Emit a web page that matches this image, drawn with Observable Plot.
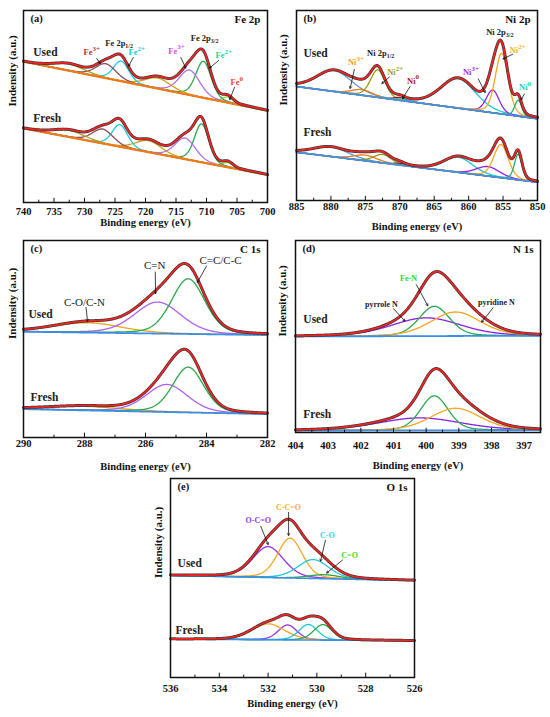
<!DOCTYPE html>
<html><head><meta charset="utf-8">
<script src="https://cdn.jsdelivr.net/npm/d3@7"></script>
<script src="https://cdn.jsdelivr.net/npm/@observablehq/plot@0.6"></script>
<style>
body{margin:0;background:#fff;}
#wrap{position:relative;width:550px;height:717px;background:#fff;overflow:hidden;}
#wrap svg{position:absolute;overflow:visible;}
#wrap svg, #wrap svg text{font-family:"Liberation Serif","Times New Roman",serif !important;}
</style></head><body><div id="wrap"></div>
<script>
const FONT = "Liberation Serif";

// ---------- (a) Fe 2p ----------
const feComponents = ["Fe0","Fe2+ 2p3/2","Fe3+ 2p3/2","sat 2p3/2","Fe2+ 2p1/2","Fe3+ 2p1/2","sat 2p1/2"];
const feColors = ["#9acd32","#2aa84a","#b070f0","#d4a017","#1ec8e0","#8b4c5c","#a8a020"];
const feUsedCenters = [706.5,710.5,712.8,718,724,726.5,732.5];
const feUsedHeights = [0.03,0.19,0.13,0.055,0.105,0.075,0.035];
const feUsedWidths  = [2,3,4,5,3,4,6];
const feUsedBg = [0.734,0.478];
const feFreshCenters = [706.5,710.8,713.5,719.5,724.2,727,732.5];
const feFreshHeights = [0.025,0.2,0.11,0.06,0.115,0.075,0.035];
const feFreshWidths  = [2,2.8,4,5,3,4,6];
const feFreshBg = [0.386,0.144];
const feTicks = [740,735,730,725,720,715,710,705,700];
const feLabels = [
 {t:"Fe",s:"3+",x:728.7,y:0.78,c:"#b03040"},
 {t:"Fe 2p",b:"1/2",x:723.3,y:0.828,c:"#222"},
 {t:"Fe",s:"2+",x:721.3,y:0.78,c:"#19c6e6"},
 {t:"Fe",s:"3+",x:714.8,y:0.79,c:"#d04cf0"},
 {t:"Fe 2p",b:"3/2",x:709.3,y:0.854,c:"#222"},
 {t:"Fe",s:"2+",x:707.05,y:0.766,c:"#21d6a0"},
 {t:"Fe",s:"0",x:704.6,y:0.625,c:"#ff3b3b"}];
const feArrows = [
 {x1:728.0,y1:0.75,x2:727.4,y2:0.724},
 {x1:722.0,y1:0.755,x2:722.8,y2:0.71},
 {x1:714.2,y1:0.755,x2:713.4,y2:0.70},
 {x1:708.0,y1:0.74,x2:709.5,y2:0.70},
 {x1:705.4,y1:0.60,x2:706.2,y2:0.536}];

// ---------- (b) Ni 2p ----------
const niComponents = ["sat 2p1/2","Ni3+ 2p1/2","Ni2+ 2p1/2","Ni0 2p1/2","sat 2p3/2","Ni3+ 2p3/2","Ni2+ 2p3/2","Ni0 2p3/2"];
const niColors = ["#5b9bd5","#f07a1a","#9a9a10","#8b1a1a","#20c8d0","#9020e0","#f5a623","#20b070"];
const niUsedCenters = [879.5,875.5,873.2,870,861.5,856.5,855.2,852.8];
const niUsedHeights = [0.11,0.03,0.145,0.015,0.155,0.12,0.32,0.085];
const niUsedWidths  = [6,3.5,2.5,2,6,2.2,2.2,1.2];
const niUsedBg = [0.60,0.43];
const niFreshCenters = [880,875,872.5,870,861.5,857.2,855.3,852.8];
const niFreshHeights = [0.05,0.03,0.045,0.01,0.08,0.05,0.175,0.135];
const niFreshWidths  = [6,4,3,2,5,4,2.5,1.3];
const niFreshBg = [0.254,0.096];
const niTicks = [885,880,875,870,865,860,855,850];
const niLabels = [
 {t:"Ni",s:"3+",x:876.3,y:0.726,c:"#f5a020"},
 {t:"Ni 2p",b:"1/2",x:871.9,y:0.774,c:"#222"},
 {t:"Ni",s:"2+",x:870.6,y:0.674,c:"#a0a010"},
 {t:"Ni",s:"0",x:867.7,y:0.63,c:"#b02020"},
 {t:"Ni",s:"3+",x:859.6,y:0.674,c:"#9a2cf0"},
 {t:"Ni 2p",b:"3/2",x:854.6,y:0.884,c:"#222"},
 {t:"Ni",s:"2+",x:852.8,y:0.79,c:"#f5b030"},
 {t:"Ni",s:"0",x:851.45,y:0.595,c:"#20d0a0"}];
const niArrows = [
 {x1:876.6,y1:0.69,x2:877.2,y2:0.59},
 {x1:871.5,y1:0.65,x2:872.6,y2:0.616},
 {x1:868.5,y1:0.60,x2:869.6,y2:0.537},
 {x1:858.6,y1:0.64,x2:857.6,y2:0.568},
 {x1:853.6,y1:0.77,x2:855.0,y2:0.745},
 {x1:851.9,y1:0.56,x2:852.4,y2:0.53}];

// ---------- (c) C 1s ----------
const cComponents = ["C-O/C-N","C=N","C=C/C-C"];
const cColors = ["#e8a820","#b060f0","#2aa84a"];
const cUsedCenters = [287.9,285.6,284.6];
const cUsedHeights = [0.05,0.16,0.28];
const cUsedWidths  = [2.6,1.8,1.3];
const cUsedBg = [0.537,0.52];
const cFreshCenters = [288,285.3,284.6];
const cFreshHeights = [0.02,0.14,0.23];
const cFreshWidths  = [3,1.6,1.2];
const cFreshBg = [0.144,0.119];
const cTicks = [290,288,286,284,282];
const cLabels = [
 {t:"C=N",x:285.7,y:0.873,c:"#222"},
 {t:"C=C/C-C",x:283.54,y:0.9,c:"#222"},
 {t:"C-O/C-N",x:288.0,y:0.685,c:"#222"}];
const cArrows = [
 {x1:285.68,y1:0.84,x2:285.67,y2:0.73},
 {x1:284.0,y1:0.87,x2:284.3,y2:0.787},
 {x1:287.95,y1:0.66,x2:287.9,y2:0.59}];

// ---------- (d) N 1s ----------
const nComponents = ["pyrrole N","Fe-N","pyridine N"];
const nColors = ["#8a20e0","#2aa84a","#f5a623"];
const nUsedCenters = [400.0,399.75,399.1];
const nUsedHeights = [0.095,0.155,0.125];
const nUsedWidths  = [2.5,1.1,1.8];
const nUsedBg = [0.5,0.504];
const nFreshCenters = [400.2,399.75,399.1];
const nFreshHeights = [0.065,0.18,0.115];
const nFreshWidths  = [3,1.0,1.8];
const nFreshBg = [0.01,0.012];
const nTicks = [404,403,402,401,400,399,398,397];
const nLabels = [
 {t:"Fe-N",x:400.54,y:0.80,c:"#22dd22"},
 {t:"pyrrole N",x:401.37,y:0.667,c:"#222"},
 {t:"pyridine N",x:397.85,y:0.677,c:"#222"}];
const nArrows = [
 {x1:400.3,y1:0.77,x2:399.95,y2:0.66},
 {x1:401.0,y1:0.645,x2:400.65,y2:0.58},
 {x1:397.95,y1:0.65,x2:398.3,y2:0.575}];

// ---------- (e) O 1s ----------
const oComponents = ["O-C=O","C-C=O","C-O","C=O"];
const oColors = ["#9a30e0","#f5a623","#20c8d8","#2aa84a"];
const oUsedCenters = [532.0,531.1,530.15,529.7];
const oUsedHeights = [0.155,0.2,0.095,0.02];
const oUsedWidths  = [1.5,1.2,1.5,1.5];
const oUsedBg = [0.513,0.487];
const oFreshCenters = [531.2,532.0,530.35,529.75];
const oFreshHeights = [0.075,0.08,0.078,0.078];
const oFreshWidths  = [0.9,1.6,0.9,0.9];
const oFreshBg = [0.193,0.185];
const oTicks = [536,534,532,530,528,526];
const oLabels = [
 {t:"O-C=O",x:532.4,y:0.79,c:"#9a30f0"},
 {t:"C-C=O",x:531.16,y:0.854,c:"#f0b030"},
 {t:"C-O",x:529.57,y:0.714,c:"#30d8e8"},
 {t:"C=O",x:528.66,y:0.613,c:"#30e030"}];
const oArrows = [
 {x1:532.3,y1:0.76,x2:532.0,y2:0.668},
 {x1:531.16,y1:0.83,x2:531.16,y2:0.714},
 {x1:529.65,y1:0.69,x2:529.85,y2:0.585},
 {x1:528.95,y1:0.59,x2:529.6,y2:0.525}];

// peak shape (pseudo-Voigt) for a fitted component
function pv(x,c,h,w){const t=(x-c)/w;const eta=0.25;return h*((1-eta)*Math.exp(-4*Math.LN2*t*t)+eta/(1+4*t*t));}

function panel(cfg){
  const [x0,x1]=cfg.domain;
  const lo=Math.min(x0,x1), hi=Math.max(x0,x1);
  const xs=d3.range(lo,hi+cfg.step/2,cfg.step);
  const comp=[],base=[],env=[];
  cfg.spectra.forEach((s,si)=>{
    const bg=x=>s.bg[0]+(s.bg[1]-s.bg[0])*(x-x0)/(x1-x0);
    s.centers.forEach((c,k)=>{xs.forEach(x=>comp.push({x,y:bg(x)+pv(x,c,s.heights[k],s.widths[k]),z:si+"-"+k,color:cfg.colors[k]}));});
    xs.forEach(x=>{
      base.push({x,y:bg(x),z:si});
      env.push({x,y:bg(x)+d3.sum(s.centers,(c,k)=>pv(x,c,s.heights[k],s.widths[k])),z:si});
    });
  });
  const majors=cfg.ticks;
  const minors=[];
  for(let i=0;i<majors.length-1;i++) minors.push((majors[i]+majors[i+1])/2);
  const sup=cfg.labels.filter(d=>d.s||d.b);
  const plain=cfg.labels.filter(d=>!(d.s||d.b));
  const F={fontFamily:FONT};
  const marks=[
    Plot.line(comp,{x:"x",y:"y",z:"z",stroke:"color",strokeWidth:1.3}),
    Plot.line(base,{x:"x",y:"y",z:"z",stroke:cfg.baseColor,strokeWidth:cfg.baseWidth||1.6}),
    Plot.line(env,{x:"x",y:"y",z:"z",stroke:"#3a3a3a",strokeWidth:3}),
    Plot.line(env,{x:"x",y:"y",z:"z",stroke:"#ff2020",strokeWidth:1.6}),
    Plot.arrow(cfg.arrows,{x1:"x1",y1:"y1",x2:"x2",y2:"y2",stroke:"#111",strokeWidth:0.8,headLength:4}),
    Plot.text(sup,{...F,x:"x",y:"y",text:"t",fill:"c",textAnchor:"end",fontSize:cfg.labSize||8.5,fontWeight:"bold"}),
    Plot.text(sup.filter(d=>d.s),{...F,x:"x",y:"y",text:"s",fill:"c",textAnchor:"start",dy:-4,fontSize:7,fontWeight:"bold"}),
    Plot.text(sup.filter(d=>d.b),{...F,x:"x",y:"y",text:"b",fill:"c",textAnchor:"start",dy:2.5,fontSize:6,fontWeight:"bold"}),
    Plot.text(plain,{...F,x:"x",y:"y",text:"t",fill:"c",fontSize:cfg.labSize||8,fontWeight:cfg.plainWeight||"bold"}),
    Plot.text([{t:"Used",x:cfg.usedPos[0],y:cfg.usedPos[1]},{t:"Fresh",x:cfg.freshPos[0],y:cfg.freshPos[1]}],{...F,x:"x",y:"y",text:"t",textAnchor:"start",fontSize:11.5,fontWeight:"bold",fill:"#222"}),
    Plot.ruleX(majors,{y1:0,y2:0.022,stroke:"#111",strokeWidth:1}),
    Plot.ruleX(minors,{y1:0,y2:0.012,stroke:"#111",strokeWidth:1}),
    Plot.axisX({...F,ticks:majors,tickSize:0,tickPadding:cfg.tickPad,tickFormat:d=>String(d),fontSize:10.5,fontWeight:"bold",fill:"#111",label:null}),
    Plot.text(["Binding energy (eV)"],{...F,frameAnchor:"bottom",lineAnchor:"middle",dy:cfg.titleDy,fontSize:10.5,fontWeight:"bold",fill:"#111"}),
    Plot.text(["Indensity (a.u.)"],{...F,frameAnchor:"left",rotate:-90,dx:cfg.yDx,fontSize:11,fontWeight:"bold",fill:"#111"}),
    Plot.text([cfg.letter],{...F,frameAnchor:"top-left",dx:7,dy:4,fontSize:10.5,fontWeight:"bold",fill:"#111"}),
    Plot.text([cfg.title],{...F,frameAnchor:"top-right",dx:-7,dy:5,fontSize:11,fontWeight:"bold",fill:"#111"}),
    Plot.frame({stroke:"#111",strokeWidth:1.5})
  ];
  const svg=Plot.plot({
    width:cfg.w,height:cfg.h,
    marginLeft:cfg.m[0],marginRight:cfg.m[1],marginTop:cfg.m[2],marginBottom:cfg.m[3],
    x:{domain:cfg.domain},
    y:{domain:[0,1],axis:null},
    color:{type:"identity"},
    style:{fontFamily:FONT,background:"transparent",overflow:"visible"},
    marks
  });
  svg.style.left=cfg.left+"px";
  svg.style.top=cfg.top+"px";
  document.getElementById("wrap").appendChild(svg);
}

panel({domain:[740,700],step:0.1,ticks:feTicks,colors:feColors,baseColor:"#f07a1a",baseWidth:2.2,
  spectra:[{centers:feUsedCenters,heights:feUsedHeights,widths:feUsedWidths,bg:feUsedBg},
           {centers:feFreshCenters,heights:feFreshHeights,widths:feFreshWidths,bg:feFreshBg}],
  labels:feLabels,arrows:feArrows,letter:"(a)",title:"Fe 2p",usedPos:[738.4,0.78],freshPos:[738.4,0.4375],
  w:275,h:230,m:[23,8,10,28],left:0,top:0,tickPad:5,titleDy:20,yDx:-11});

panel({domain:[885,850],step:0.1,ticks:niTicks,colors:niColors,baseColor:"#4a8fe0",baseWidth:1.8,
  spectra:[{centers:niUsedCenters,heights:niUsedHeights,widths:niUsedWidths,bg:niUsedBg},
           {centers:niFreshCenters,heights:niFreshHeights,widths:niFreshWidths,bg:niFreshBg}],
  labels:niLabels,arrows:niArrows,letter:"(b)",title:"Ni 2p",usedPos:[884,0.774],freshPos:[884,0.358],
  w:275,h:230,m:[21,13,10,30],left:275,top:0,tickPad:2,titleDy:26,yDx:-13});

panel({domain:[290,282],step:0.02,ticks:cTicks,colors:cColors,baseColor:"#3a8ee6",baseWidth:1.8,
  spectra:[{centers:cUsedCenters,heights:cUsedHeights,widths:cUsedWidths,bg:cUsedBg},
           {centers:cFreshCenters,heights:cFreshHeights,widths:cFreshWidths,bg:cFreshBg}],
  labels:cLabels,arrows:cArrows,letter:"(c)",title:"C 1s",usedPos:[289.84,0.624],freshPos:[289.77,0.203],
  labSize:11,plainWeight:"normal",
  w:275,h:250,m:[23,8,15,38],left:0,top:225,tickPad:2,titleDy:29,yDx:-11});

panel({domain:[404,396.5],step:0.02,ticks:nTicks,colors:nColors,baseColor:"#3a8ee6",baseWidth:1.8,
  spectra:[{centers:nUsedCenters,heights:nUsedHeights,widths:nUsedWidths,bg:nUsedBg},
           {centers:nFreshCenters,heights:nFreshHeights,widths:nFreshWidths,bg:nFreshBg}],
  labels:nLabels,arrows:nArrows,letter:"(d)",title:"N 1s",usedPos:[403.76,0.59],freshPos:[403.76,0.094],
  labSize:8,
  w:275,h:250,m:[20,10,15,43],left:275,top:225,tickPad:9,titleDy:33,yDx:-13});

panel({domain:[536,526],step:0.02,ticks:oTicks,colors:oColors,baseColor:"#3a8ee6",baseWidth:1.6,
  spectra:[{centers:oUsedCenters,heights:oUsedHeights,widths:oUsedWidths,bg:oUsedBg},
           {centers:oFreshCenters,heights:oFreshHeights,widths:oFreshWidths,bg:oFreshBg}],
  labels:oLabels,arrows:oArrows,letter:"(e)",title:"O 1s",usedPos:[535.71,0.573],freshPos:[535.8,0.236],
  labSize:8,
  w:290,h:262,m:[30,16,23,40],left:140,top:455,tickPad:7,titleDy:26,yDx:-12});
</script></body></html>
